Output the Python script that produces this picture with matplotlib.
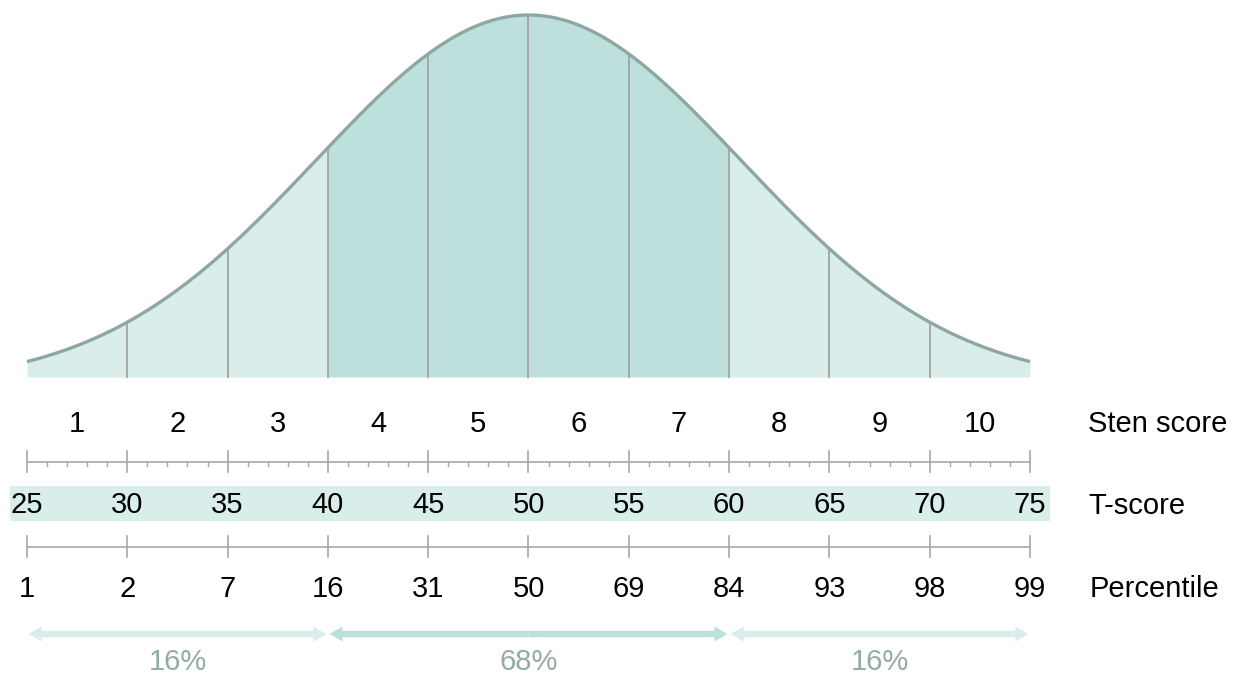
import numpy as np
import matplotlib
matplotlib.use("Agg")
import matplotlib.pyplot as plt
from matplotlib.patches import Rectangle, FancyArrow

plt.rcParams['font.family'] = ['Liberation Sans', 'DejaVu Sans']

# ---- data ----
sten_labels = ["1", "2", "3", "4", "5", "6", "7", "8", "9", "10"]
t_scores = [25, 30, 35, 40, 45, 50, 55, 60, 65, 70, 75]
percentiles = ["1", "2", "7", "16", "31", "50", "69", "84", "93", "98", "99"]
band_ranges = [(25, 40), (40, 60), (60, 75)]
band_pcts = ["16%", "68%", "16%"]
dist_mean = 50
dist_sd = 10.6

# ---- colours ----
LIGHT = "#d9edeb"
DARK = "#bde0dc"
CURVE = "#8ea7a3"
VLINE = "#a3a3a3"
RULER = "#a8a8a8"
PCT_TXT = "#93aba7"

W, H = 1238, 675
fig = plt.figure(figsize=(W / 100, H / 100), dpi=100)
ax = fig.add_axes([0, 0, 1, 1])
px_per_t = (1030 - 27) / 50.0
x_left = 25 - 27 / px_per_t
x_right = x_left + W / px_per_t
ax.set_xlim(x_left, x_right)
ax.set_ylim(H, 0)
ax.axis("off")

BASE_Y = 377
AMP = 369.5
OFF = 7.5


def curve_y(t):
    t = np.asarray(t, dtype=float)
    return BASE_Y - (AMP * np.exp(-((t - dist_mean) ** 2) / (2 * dist_sd ** 2)) - OFF)


# filled regions
for i in range(len(t_scores) - 1):
    a, b = t_scores[i], t_scores[i + 1]
    xs = np.linspace(a, b, 60)
    col = DARK if (a >= 40 and b <= 60) else LIGHT
    ax.fill_between(xs, curve_y(xs), BASE_Y, color=col, lw=0, zorder=1)

# vertical divider lines
for t in t_scores[1:-1]:
    ax.plot([t, t], [BASE_Y, curve_y(t)], color=VLINE, lw=1.3, zorder=2)

# curve
xs = np.linspace(25, 75, 400)
ax.plot(xs, curve_y(xs), color=CURVE, lw=2.4, zorder=3, solid_capstyle="butt")

FS = 21
# sten labels
for i, lab in enumerate(sten_labels):
    xm = (t_scores[i] + t_scores[i + 1]) / 2
    ax.text(xm, 424, lab, ha="center", va="center", fontsize=FS, color="black")

# ruler with minor ticks
RY = 462
ax.plot([25, 75], [RY, RY], color=RULER, lw=1.2, zorder=2)
for t in range(25, 76):
    if t % 5 == 0:
        ax.plot([t, t], [451, 472], color=RULER, lw=1.2)
    else:
        ax.plot([t, t], [RY, 466], color=RULER, lw=1.0)

# T-score band
ax.add_patch(Rectangle(((10 / px_per_t) + x_left, 486), (1050 - 10) / px_per_t, 35,
                       facecolor=LIGHT, edgecolor="none", zorder=1))
for t in t_scores:
    ax.text(t, 505, str(t), ha="center", va="center", fontsize=FS, color="black", zorder=3)

# percentile ruler
PY = 547
ax.plot([25, 75], [PY, PY], color=RULER, lw=1.2)
for t in t_scores:
    ax.plot([t, t], [536, 557], color=RULER, lw=1.2)
for t, p in zip(t_scores, percentiles):
    ax.text(t, 589, p, ha="center", va="center", fontsize=FS, color="black")

# right-side labels
lx = x_left + 1088 / px_per_t
ax.text(lx, 424, "Sten score", ha="left", va="center", fontsize=FS)
ax.text(lx, 506, "T-score", ha="left", va="center", fontsize=FS)
ax.text(x_left + 1090 / px_per_t, 589, "Percentile", ha="left", va="center", fontsize=FS)

# arrows
AY = 634
gap = 0.08
for (a, b), lab in zip(band_ranges, band_pcts):
    col = DARK if (a, b) == (40, 60) else LIGHT
    mid = (a + b) / 2
    hl = 13 / px_per_t
    for end in (a + gap, b - gap):
        ax.add_patch(FancyArrow(mid, AY, end - mid, 0, width=6.5, head_width=15,
                                head_length=hl, length_includes_head=True,
                                facecolor=col, edgecolor="none", zorder=2))
    ax.text(mid, 662, lab, ha="center", va="center", fontsize=FS, color=PCT_TXT)

fig.savefig("out.png", dpi=100)
